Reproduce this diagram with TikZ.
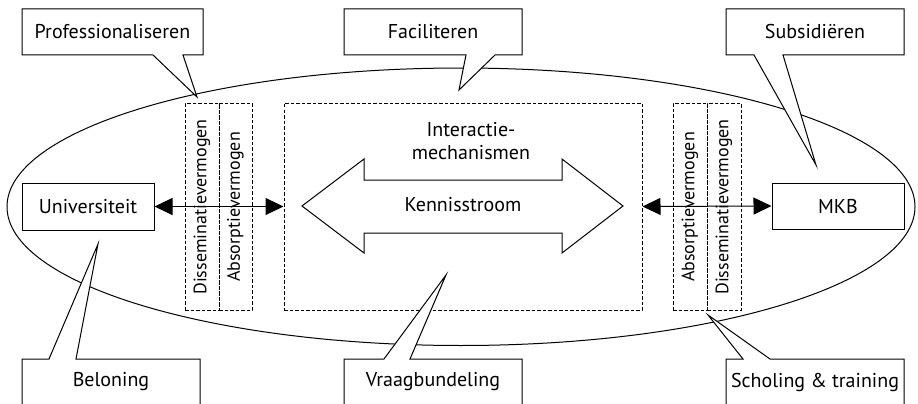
\documentclass[tikz,border=0pt]{standalone}
\usepackage{fontspec}
\setmainfont{PT Sans}
\usetikzlibrary{arrows.meta}
\begin{document}
\begin{tikzpicture}[x=1pt,y=-1pt,
  lw/.style={line width=1pt},
  callout/.style={lw,draw=black,fill=white,line join=miter},
  dbox/.style={lw,draw=black,dash pattern=on 3.5pt off 2pt},
  lbl/.style={font=\fontsize{20}{23}\selectfont,inner sep=0pt},
  vlbl/.style={font=\fontsize{18}{21}\selectfont,inner sep=0pt,rotate=90},
  plain/.style={lw,draw=black,fill=white},
  link/.style={lw,{Triangle[length=18pt,width=17pt]}-{Triangle[length=18pt,width=17pt]}}
]
\useasboundingbox (0,0) rectangle (918,404);
\clip (0,0) rectangle (918,404);
% ellipse
\draw[lw] (461,206.75) ellipse [x radius=454pt, y radius=138.75pt];
% dashed boxes
\node[dbox,minimum width=34pt,minimum height=207pt,inner sep=0pt] (ldis) at (202,206.5) {};
\node[dbox,minimum width=33pt,minimum height=207pt,inner sep=0pt] (labs) at (235.5,206.5) {};
\node[dbox,minimum width=358pt,minimum height=207pt,inner sep=0pt] (cbox) at (463,206.5) {};
\node[dbox,minimum width=34pt,minimum height=207pt,inner sep=0pt] (rabs) at (690,206.5) {};
\node[dbox,minimum width=34pt,minimum height=207pt,inner sep=0pt] (rdis) at (724,206.5) {};
\node[vlbl] (tldis) at (202,207) {Disseminatievermogen};
\node[vlbl] (tlabs) at (235.5,207) {Absorptievermogen};
\node[vlbl] (trabs) at (690,207) {Absorptievermogen};
\node[vlbl] (trdis) at (724,207) {Disseminatievermogen};
% actor boxes
\node[plain,lbl,minimum width=132pt,minimum height=47pt] (univ) at (88,206.5) {Universiteit};
\node[plain,lbl,minimum width=132pt,minimum height=46pt] (mkb) at (838,206) {MKB};
% connectors
\draw[link] (univ.east) -- (cbox.west);
\draw[link] (cbox.east) -- (mkb.west);
% big double arrow
\draw[lw,line join=miter] (302,206) -- (364,159) -- (364,180) -- (562,180) -- (562,159) -- (623,206)
  -- (562,253) -- (562,233) -- (364,233) -- (364,253) -- cycle;
\node[lbl] (kennis) at (463,205) {Kennisstroom};
\node[lbl,align=center] (inter) at (471,141) {Interactie-\\mechanismen};
% callouts top
\draw[callout] (22,9) -- (203,9) -- (203,55) -- (183,55) -- (197,97) -- (153,55) -- (22,55) -- cycle;
\node[lbl] (prof) at (112.5,32) {Professionaliseren};
\draw[callout] (344,9) -- (522,9) -- (522,55) -- (495,55) -- (459,90) -- (466,55) -- (344,55) -- cycle;
\node[lbl] (fac) at (433,32) {Faciliteren};
\draw[callout] (726,9) -- (904,9) -- (904,55) -- (783,55) -- (816,165) -- (754,55) -- (726,55) -- cycle;
\node[lbl] (sub) at (815,32) {Subsidiëren};
% callouts bottom
\draw[callout] (22,410) -- (22,359) -- (49,359) -- (98,244) -- (76,359) -- (200,359) -- (200,410) -- cycle;
\node[lbl] (bel) at (111,382) {Beloning};
\draw[callout] (344,410) -- (344,359) -- (384,359) -- (446,275) -- (410,359) -- (522,359) -- (522,410) -- cycle;
\node[lbl] (vraag) at (433,382) {Vraagbundeling};
\draw[callout] (726,410) -- (726,359) -- (743,359) -- (708,315) -- (770,359) -- (904,359) -- (904,410) -- cycle;
\node[lbl] (schol) at (815,382) {Scholing \& training};
\end{tikzpicture}
\end{document}
